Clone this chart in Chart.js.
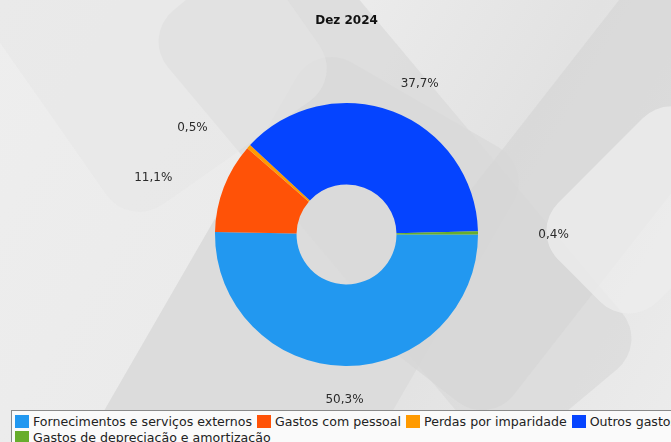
<!DOCTYPE html>
<html>
<head>
<meta charset="utf-8">
<script src="https://cdn.jsdelivr.net/npm/chart.js@4/dist/chart.umd.min.js"></script>
<style>
  html, body { margin: 0; padding: 0; }
  body {
    width: 671px; height: 442px; overflow: hidden; position: relative;
    background: linear-gradient(120deg, #eeeeee 0%, #ebebeb 40%, #e2e2e2 65%, #ececec 100%);
    font-family: "DejaVu Sans", sans-serif;
  }
  .bg { position: absolute; border-radius: 40px; }
  #wrap { position: absolute; left: 0; top: 0; width: 671px; height: 442px; }
  #legend {
    position: absolute; left: 11px; top: 410px; width: 740px; height: 40px;
    border: 1px solid #8a8a8a; background: #fafafa;
    font-size: 12.6px; color: #222; line-height: 16px; padding: 3px 0 0 3px;
  }
  #legend .item { display: inline-block; white-space: nowrap; margin-right: 5px; }
  #legend .box { display: inline-block; width: 14px; height: 13px; vertical-align: -2px; margin-right: 4px; }
</style>
</head>
<body>
<!-- fundo cinzento -->
<div class="bg" style="left:170px;top:70px;width:250px;height:520px;background:#dcdcdc;transform:rotate(30deg);"></div>
<div class="bg" style="left:300px;top:-90px;width:190px;height:560px;background:#d9d9d9;transform:rotate(-40deg);opacity:.75"></div>
<div class="bg" style="left:500px;top:-70px;width:160px;height:500px;background:#d6d6d6;transform:rotate(38deg);opacity:.7"></div>
<div class="bg" style="left:580px;top:110px;width:140px;height:200px;background:#ececec;transform:rotate(45deg);opacity:.8"></div>
<div class="bg" style="left:20px;top:-120px;width:260px;height:300px;background:#e6e6e6;transform:rotate(-35deg);opacity:.5"></div>

<div id="wrap"><canvas id="chart" width="671" height="442"></canvas></div>
<div id="legend"></div>

<script>
/* =========================
   DADOS
========================= */
const titleText = "Dez 2024";
const categories = [
  "Fornecimentos e serviços externos",
  "Gastos com pessoal",
  "Perdas por imparidade",
  "Outros gastos",
  "Gastos de depreciação e amortização"
];
const values = [50.3, 11.1, 0.5, 37.7, 0.4];
const colors = ["#2298f0", "#ff5207", "#ff9a00", "#0544ff", "#67ad2c"];

// formato pt: 50,3%
function pct(v) {
  return v.toFixed(1).replace(".", ",") + "%";
}

/* =========================
   LEGENDA (html)
========================= */
const legend = document.getElementById("legend");
categories.forEach((name, i) => {
  const span = document.createElement("span");
  span.className = "item";
  span.innerHTML = `<span class="box" style="background:${colors[i]}"></span>${name}`;
  legend.appendChild(span);
});

/* =========================
   ETIQUETAS DE PERCENTAGEM
========================= */
const pctLabels = {
  id: "pctLabels",
  afterDatasetsDraw(chart) {
    const ctx = chart.ctx;
    const arcs = chart.getDatasetMeta(0).data;
    ctx.save();
    ctx.font = "12px 'DejaVu Sans'";
    ctx.fillStyle = "#2a2a2a";
    ctx.textAlign = "center";
    ctx.textBaseline = "middle";
    arcs.forEach((arc, i) => {
      const mid = (arc.startAngle + arc.endAngle) / 2;
      const rx = arc.outerRadius * 1.575;
      const ry = arc.outerRadius * 1.24;
      ctx.fillText(pct(values[i]), arc.x + Math.cos(mid) * rx, arc.y + Math.sin(mid) * ry + 2);
    });
    ctx.restore();
  }
};

/* =========================
   GRÁFICO
========================= */
const chart = new Chart(document.getElementById("chart").getContext("2d"), {
  type: "doughnut",
  data: {
    labels: categories,
    datasets: [{
      data: values,
      backgroundColor: colors,
      borderWidth: 0
    }]
  },
  options: {
    responsive: false,
    animation: false,
    rotation: 90,
    cutout: "38%",
    layout: { padding: { left: 215, right: 193, top: 0, bottom: 76 } },
    plugins: {
      legend: { display: false },
      tooltip: { enabled: false },
      title: {
        display: true,
        text: titleText,
        color: "#111",
        font: { family: "DejaVu Sans", size: 12, weight: "bold" },
        padding: { top: 14, bottom: 74.6 }
      }
    }
  },
  plugins: [pctLabels]
});
</script>
</body>
</html>
